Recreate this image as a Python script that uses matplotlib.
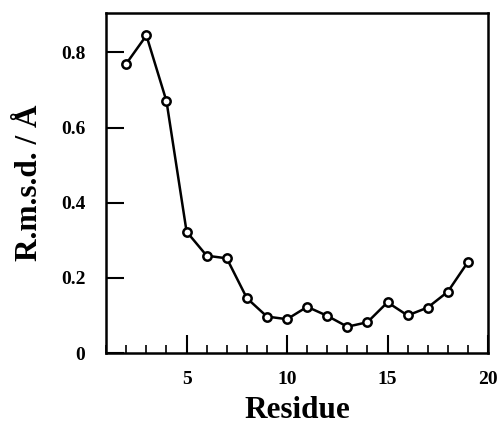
import matplotlib
matplotlib.use("Agg")
import matplotlib.pyplot as plt
from matplotlib.ticker import MultipleLocator, FuncFormatter

residue = [2, 3, 4, 5, 6, 7, 8, 9, 10, 11, 12, 13, 14, 15, 16, 17, 18, 19]
rmsd = [0.770, 0.845, 0.670, 0.323, 0.259, 0.252, 0.146, 0.097, 0.090, 0.123,
        0.099, 0.070, 0.082, 0.135, 0.100, 0.121, 0.163, 0.242]
x_ticks = [5, 10, 15, 20]
y_ticks = [0, 0.2, 0.4, 0.6, 0.8]

plt.rcParams['font.family'] = ['Liberation Serif', 'DejaVu Serif']
plt.rcParams['font.weight'] = 'bold'

fig = plt.figure(figsize=(5.01, 4.30), dpi=100)
ax = fig.add_axes([0.212, 0.179, 0.762, 0.791])

ax.plot(residue, rmsd, color='black', linewidth=1.8, marker='o', markersize=6,
        markerfacecolor='white', markeredgecolor='black', markeredgewidth=1.8)

ax.set_xlim(1, 20)
ax.set_ylim(0, 0.905)
ax.set_xticks(x_ticks)
ax.set_yticks(y_ticks)
ax.xaxis.set_minor_locator(MultipleLocator(1))
ax.yaxis.set_major_formatter(FuncFormatter(lambda v, p: '0' if v == 0 else f'{v:.1f}'))

ax.tick_params(which='major', direction='in', length=13, width=1.5,
               labelsize=14, pad=13, top=False, right=False)
ax.tick_params(which='minor', direction='in', length=6, width=1.2,
               top=False, right=False)
ax.tick_params(axis='y', which='major', pad=15)
for lab in ax.get_xticklabels() + ax.get_yticklabels():
    lab.set_fontweight('bold')

for s in ax.spines.values():
    s.set_linewidth(1.8)

ax.set_xlabel('Residue', fontsize=22.5, fontweight='bold', labelpad=6)
ax.set_ylabel('R.m.s.d. / Å', fontsize=22.5, fontweight='bold', labelpad=12)

fig.savefig('out.png', dpi=100)
